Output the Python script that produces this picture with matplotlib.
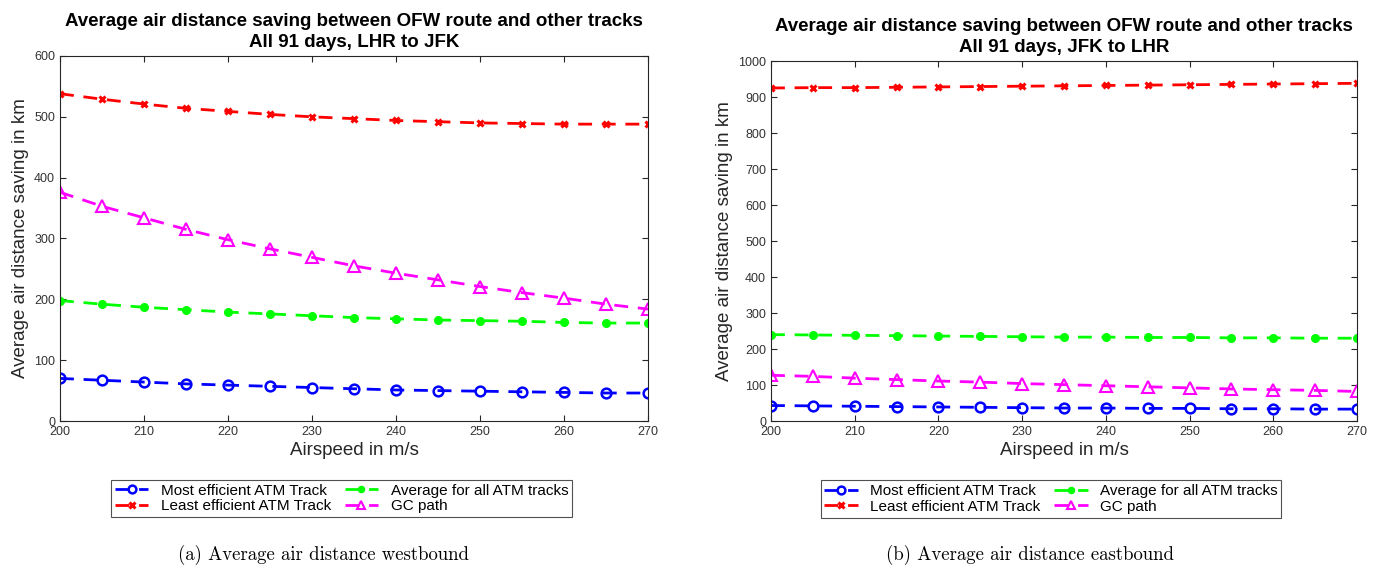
import matplotlib
matplotlib.use("Agg")
import matplotlib.pyplot as plt

plt.rcParams['font.family'] = ['Liberation Sans', 'DejaVu Sans']

airspeed = [200, 205, 210, 215, 220, 225, 230, 235, 240, 245, 250, 255, 260, 265, 270]

# Westbound (LHR to JFK)
west_most = [70, 67, 64, 61, 59, 57, 55, 53, 51, 50, 49, 48, 47, 46, 46]
west_least = [538, 529, 521, 514, 509, 504, 500, 497, 494, 492, 490, 489, 488, 488, 488]
west_avg = [198, 192, 187, 183, 179, 176, 173, 170, 168, 166, 165, 164, 162, 161, 161]
west_gc = [376, 353, 334, 315, 298, 283, 269, 255, 243, 232, 221, 211, 202, 192, 184]

# Eastbound (JFK to LHR)
east_most = [43, 42, 41, 40, 39, 38, 37, 36, 36, 35, 35, 34, 34, 33, 33]
east_least = [925, 926, 926, 927, 928, 929, 930, 931, 932, 933, 934, 935, 936, 937, 938]
east_avg = [240, 239, 238, 237, 236, 235, 234, 233, 233, 232, 232, 231, 231, 230, 230]
east_gc = [127, 124, 119, 115, 111, 108, 104, 101, 98, 95, 92, 89, 87, 85, 82]

labels = ["Most efficient ATM Track", "Least efficient ATM Track",
          "Average for all ATM tracks", "GC path"]
titles = ["Average air distance saving between OFW route and other tracks\nAll 91 days, LHR to JFK",
          "Average air distance saving between OFW route and other tracks\nAll 91 days, JFK to LHR"]
captions = ["(a) Average air distance westbound", "(b) Average air distance eastbound"]
xticks = [200, 210, 220, 230, 240, 250, 260, 270]

fig = plt.figure(figsize=(13.81, 5.69), dpi=100)
ax1 = fig.add_axes([60/1381, 1-421/569, (648-60)/1381, (421-56)/569])
ax2 = fig.add_axes([771/1381, 1-421/569, (1357-771)/1381, (421-61)/569])

styles = [dict(color=(0, 0, 1), marker='o', mfc='none', ms=7, mew=1.8),
          dict(color=(1, 0, 0), marker='x', ms=5, mew=2.2),
          dict(color=(0, 1, 0), marker='o', mfc=(0, 1, 0), ms=5.5, mew=1),
          dict(color=(1, 0, 1), marker='^', mfc='none', ms=8, mew=1.5)]

datasets = [(west_most, west_least, west_avg, west_gc),
            (east_most, east_least, east_avg, east_gc)]
ylims = [(0, 600, 100), (0, 1000, 100)]
legend_boxes = [(108, 475, 575, 522), (819, 476, 1283, 522)]
caption_x = [323, 1030]

for i, ax in enumerate([ax1, ax2]):
    for data, lab, st in zip(datasets[i], labels, styles):
        ax.plot(airspeed, data, linestyle=(0, (5, 3.5)), linewidth=2, label=lab, **st)
    ax.set_xlim(200, 270)
    lo, hi, step = ylims[i]
    ax.set_ylim(lo, hi)
    ax.set_yticks(list(range(lo, hi + 1, step)))
    ax.set_xticks(xticks)
    ax.tick_params(direction='in', top=True, right=True, labelsize=9, length=4,
                   colors='#262626', labelcolor='#333333')
    for sp in ax.spines.values():
        sp.set_color('#262626')
        sp.set_linewidth(0.8)
    ax.set_xlabel("Airspeed in m/s", fontsize=13.5, color='#262626', labelpad=3)
    ax.set_ylabel("Average air distance saving in km", fontsize=13.5, color='#262626', labelpad=4)
    ax.set_title(titles[i], fontsize=13.5, fontweight='bold', color='black', pad=6.5, linespacing=1.32)
    x0, y0, x1, y1 = legend_boxes[i]
    leg = fig.legend(handles=ax.get_lines(), labels=labels, ncol=2,
                     loc='center', bbox_to_anchor=((x0 + x1) / 2 / 1381, 1 - (y0 + y1) / 2 / 569),
                     fontsize=11, frameon=True, fancybox=False, edgecolor='#262626',
                     handlelength=2.2, handletextpad=0.8, columnspacing=0.9,
                     labelspacing=0.1, borderpad=0.25, markerscale=0.8)
    leg.get_frame().set_linewidth(0.8)
    fig.text(caption_x[i] / 1381, 1 - 555 / 569, captions[i], ha='center', va='center',
             fontsize=13.5, family='cmr10')

fig.savefig("out.png", dpi=100)
